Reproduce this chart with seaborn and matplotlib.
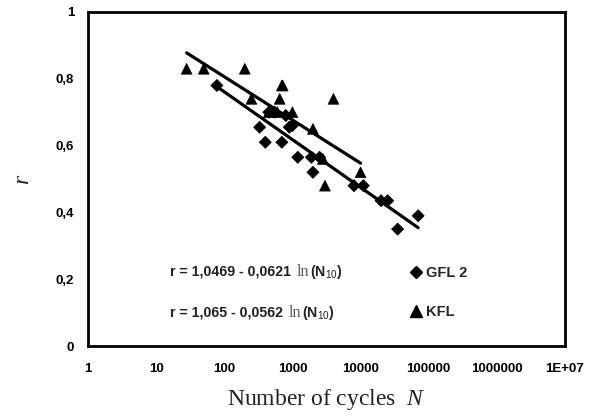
import numpy as np
import pandas as pd
import matplotlib
matplotlib.use("Agg")
import matplotlib.pyplot as plt
from matplotlib.lines import Line2D
from matplotlib.offsetbox import TextArea, HPacker, AnchoredOffsetbox
import seaborn as sns

# Fatigue test results: number of cycles N and ratio r
gfl_n = [78, 330, 400, 450, 550, 700, 800, 900, 1000, 1200, 1900, 2000, 2500,
         8000, 11000, 20000, 25000, 35000, 70000]
gfl_r = [0.78, 0.655, 0.61, 0.70, 0.70, 0.61, 0.69, 0.655, 0.66, 0.565, 0.565,
         0.52, 0.565, 0.48, 0.48, 0.435, 0.435, 0.35, 0.39]

kfl_n = [28, 50, 200, 250, 450, 600, 650, 700, 720, 1000, 2000, 2800, 3000,
         4000, 10000]
kfl_r = [0.83, 0.83, 0.83, 0.74, 0.70, 0.70, 0.74, 0.78, 0.78, 0.70, 0.65,
         0.56, 0.48, 0.74, 0.52]

# Logarithmic fits r = a - b ln(N)
series_names = ["GFL 2", "KFL"]
fit_a = [1.0469, 1.065]
fit_b = [0.0621, 0.0562]
fit_a_text = ["1,0469", "1,065"]
fit_b_text = ["0,0621", "0,0562"]

x_ticks = [1, 10, 100, 1000, 10000, 100000, 1000000, 10000000]
x_tick_labels = ["1", "10", "100", "1000", "10000", "100000", "1000000", "1E+07"]
y_ticks = [0, 0.2, 0.4, 0.6, 0.8, 1.0]
y_tick_labels = ["0", "0,2", "0,4", "0,6", "0,8", "1"]

sns.set_style("white")
plt.rcParams["font.family"] = ["Liberation Sans", "DejaVu Sans"]
plt.rcParams["mathtext.fontset"] = "custom"
plt.rcParams["mathtext.rm"] = "Liberation Sans"
plt.rcParams["mathtext.it"] = "Liberation Serif:italic"
plt.rcParams["mathtext.bf"] = "Liberation Sans:bold"

points = pd.DataFrame({
    "N": gfl_n + kfl_n,
    "r": gfl_r + kfl_r,
    "series": ["GFL 2"] * len(gfl_n) + ["KFL"] * len(kfl_n),
})

fit_rows = []
for name, a, b in zip(series_names, fit_a, fit_b):
    sub = points[points["series"] == name]
    for n in (sub["N"].min(), sub["N"].max()):
        fit_rows.append({"N": n, "r": a - b * np.log(n), "series": name})
fits = pd.DataFrame(fit_rows)

fig = plt.figure(figsize=(5.96, 4.19), dpi=100)
ax = fig.add_axes([88 / 596, 73 / 419, 477 / 596, 334 / 419])

sns.lineplot(data=fits, x="N", y="r", units="series", estimator=None,
             color="black", linewidth=2.3, ax=ax, legend=False)
sns.scatterplot(data=points, x="N", y="r", hue="series", style="series",
                size="series", sizes={"GFL 2": 38, "KFL": 60},
                palette={"GFL 2": "black", "KFL": "black"},
                markers={"GFL 2": "D", "KFL": "^"}, edgecolor="black",
                linewidth=0.5, ax=ax, legend=False)

ax.set_xscale("log")
ax.set_xlim(1, 1e7)
ax.set_ylim(0, 1)
ax.set_xticks(x_ticks)
ax.set_xticklabels(x_tick_labels)
ax.xaxis.set_minor_locator(matplotlib.ticker.NullLocator())
ax.set_yticks(y_ticks)
ax.set_yticklabels(y_tick_labels)
ax.tick_params(axis="both", direction="in", length=4, width=1, color="black",
               labelsize=9.5, labelcolor="black")
ax.tick_params(axis="x", pad=12)
ax.tick_params(axis="y", pad=10)
for lab in ax.get_xticklabels() + ax.get_yticklabels():
    lab.set_fontweight("bold")
for sp in ax.spines.values():
    sp.set_visible(True)
    sp.set_color("black")
    sp.set_linewidth(2)

ax.set_xlabel("Number of cycles  $N$", fontsize=17, color="#222222",
              family="Liberation Serif", labelpad=9)
ax.set_ylabel("r", fontsize=17, family="Liberation Serif", style="italic",
              color="#222222", labelpad=16)

# Fit equations
eq_y = [0.222, 0.099]
for i in range(2):
    parts = [
        TextArea(f"r = {fit_a_text[i]} - {fit_b_text[i]} ",
                 textprops=dict(fontsize=10.2, fontweight="bold", color="#222222")),
        TextArea("ln", textprops=dict(fontsize=11.5, family="Liberation Serif",
                                      color="#555555")),
        TextArea("(N$_{10}$)",
                 textprops=dict(fontsize=10.2, fontweight="bold", color="#222222")),
    ]
    box = HPacker(children=parts, align="baseline", pad=0, sep=1)
    anchored = AnchoredOffsetbox(loc="center left", child=box, pad=0,
                                 frameon=False, bbox_to_anchor=(0.172, eq_y[i]),
                                 bbox_transform=ax.transAxes, borderpad=0)
    ax.add_artist(anchored)

handles = [
    Line2D([], [], linestyle="none", marker="D", color="black", markersize=6.5),
    Line2D([], [], linestyle="none", marker="^", color="black", markersize=8.5),
]
leg = ax.legend(handles, series_names, loc="center left",
                bbox_to_anchor=(0.65, 0.16), frameon=False, handlelength=0.6,
                handletextpad=0.4, labelspacing=1.7,
                prop=dict(size=10.5, weight="bold"))

fig.savefig("out.png", dpi=100, facecolor="white")
